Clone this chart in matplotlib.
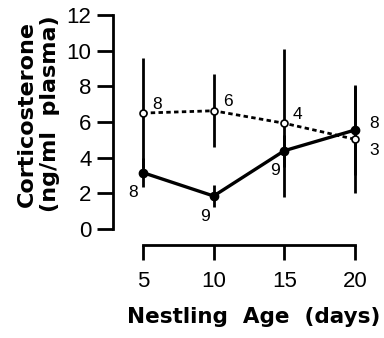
import matplotlib.pyplot as plt

plt.rcParams["font.family"] = ["Liberation Sans", "DejaVu Sans"]

# nestling age (days)
age = [5, 10, 15, 20]

# open circles, dashed line
open_mean = [6.5, 6.63, 5.93, 5.03]
open_err = [3.1, 2.05, 4.15, 3.0]
open_n = ["8", "6", "4", "3"]

# filled circles, solid line
filled_mean = [3.16, 1.85, 4.39, 5.55]
filled_err = [0.8, 0.6, 0.9, 2.5]
filled_n = ["8", "9", "9", "8"]

yticks = [0, 2, 4, 6, 8, 10, 12]

fig = plt.figure(figsize=(3.84, 3.38), dpi=100)
ax = fig.add_axes([113 / 384, 109 / 338, 257 / 384, 214 / 338])
ax.patch.set_alpha(0)

ax.errorbar(age, open_mean, yerr=open_err, fmt="none", ecolor="black",
            elinewidth=2.0, capsize=0, zorder=2)
ax.errorbar(age, filled_mean, yerr=filled_err, fmt="none", ecolor="black",
            elinewidth=2.0, capsize=0, zorder=2)
ax.plot(age, open_mean, color="black", linestyle=(0, (1.6, 1.2)), linewidth=2.0,
        marker="o", markersize=5, markerfacecolor="white",
        markeredgecolor="black", markeredgewidth=1.2, zorder=4)
ax.plot(age, filled_mean, color="black", linestyle="-", linewidth=2.4,
        marker="o", markersize=6, markerfacecolor="black",
        markeredgecolor="black", zorder=3)

# sample sizes
open_off = [(10, 6.5), (10, 7), (9.5, 6), (13.5, -8)]
filled_off = [(-7, -14.5), (-6.5, -15), (-7, -14), (13.5, 4.5)]
for x, y, n, off in zip(age, open_mean, open_n, open_off):
    ax.annotate(n, (x, y), xytext=off, textcoords="offset points",
                ha="center", va="center", fontsize=12.5)
for x, y, n, off in zip(age, filled_mean, filled_n, filled_off):
    ax.annotate(n, (x, y), xytext=off, textcoords="offset points",
                ha="center", va="center", fontsize=12.5)

ax.set_xlim(2.88, 5 + 227 / 14.13)
ax.set_ylim(0, 12)

for s in ["top", "right"]:
    ax.spines[s].set_visible(False)
ax.spines["left"].set_linewidth(2.0)
ax.spines["bottom"].set_linewidth(2.0)
ax.spines["left"].set_bounds(0, 12)
ax.spines["bottom"].set_bounds(5, 20)
ax.spines["bottom"].set_position(("outward", 11.5))

ax.set_xticks(age)
ax.set_yticks(yticks)
ax.tick_params(axis="y", direction="out", length=11.5, width=2.0,
               labelsize=16, pad=4)
ax.tick_params(axis="x", direction="out", length=10.5, width=2.0,
               labelsize=16, pad=8)
for lbl in ax.get_xticklabels() + ax.get_yticklabels():
    lbl.set_family("Liberation Sans")

fig.text(38 / 384, 1 - 114 / 338, "Corticosterone\n(ng/ml  plasma)",
         rotation=90, ha="center", va="center", multialignment="center",
         family="DejaVu Sans", fontsize=16, fontweight="bold", linespacing=1.2)
fig.text(254 / 384, 1 - 317 / 338, "Nestling  Age  (days)",
         ha="center", va="center", family="DejaVu Sans",
         fontsize=15.5, fontweight="bold")

fig.savefig("out.png", dpi=100)
